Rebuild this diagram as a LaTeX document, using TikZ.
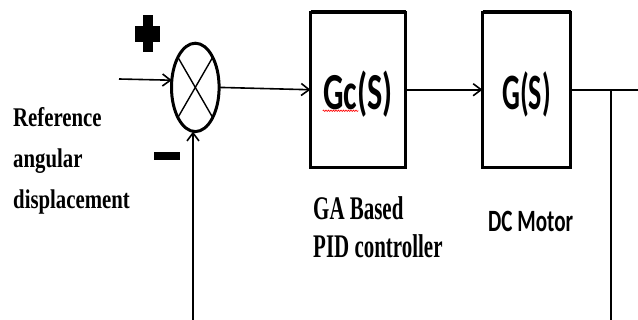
\documentclass[tikz,border=0pt]{standalone}
\usepackage{fontspec}
\setmainfont{Liberation Serif}
\newfontfamily\refserif[FakeStretch=0.77]{Liberation Serif}
\newfontfamily\gaserif[FakeStretch=0.635]{Liberation Serif}
\newfontfamily\gcsans[FakeStretch=0.62]{Carlito}
\newfontfamily\gsans[FakeStretch=0.55]{Carlito}
\newfontfamily\motorsans[FakeStretch=0.68]{Carlito}
\usetikzlibrary{arrows.meta,shapes.geometric,decorations.pathmorphing}

\begin{document}
\begin{tikzpicture}[x=1pt,y=-1pt]
\tikzset{
  blockbox/.style={rectangle,draw,line width=2.7pt,minimum width=95pt,minimum height=155.5pt,inner sep=0pt,outer sep=0pt,text height=40pt,text depth=0pt},
  topedge/.style={line width=4pt},
  sumnode/.style={ellipse,draw,line width=3pt,minimum width=47.6pt,minimum height=88.4pt,inner sep=0pt,outer sep=0pt},
  directed/.style={-{Straight Barb[length=8pt,width=12pt]},line width=1.6pt},
  undirected/.style={line width=1.6pt},
  tapline/.style={line width=1.3pt},
  crossline/.style={line width=1.4pt},
  textlabel/.style={anchor=base west,inner sep=0pt,align=left}
}
\useasboundingbox (0,0) rectangle (638,320);
\node[sumnode] (n_sum) at (195.3,87.4) {};
\node[blockbox,font=\gcsans\bfseries\fontsize{52}{52}\selectfont] (n_gc) at (358,89.75) {Gc(S)};
\node[blockbox,minimum width=88pt,font=\gsans\bfseries\fontsize{51}{51}\selectfont] (n_g) at (526.5,89.75) {G(S)};
% base anchor sits on the last line
\node[textlabel,font=\refserif\bfseries\fontsize{27}{41}\selectfont] (t_ref) at (13,209) {Reference\\angular\\displacement};
\node[textlabel,font=\gaserif\bfseries\fontsize{33}{38}\selectfont] (t_ga) at (313,258) {GA Based\\PID controller};
\node[textlabel,font=\motorsans\bfseries\fontsize{31}{31}\selectfont] (t_motor) at (488,232) {DC Motor};
\coordinate (c_in) at (119,79);
\coordinate (c_out) at (638,89.75);
\coordinate (c_tap) at (611,89.75);
\coordinate (c_tapend) at (611,320);
\coordinate (c_fb) at (193,320);
% signs
\fill (135,26) rectangle (160,42.5);
\fill (142.5,15) rectangle (152.5,52);
\fill (153.5,152.5) rectangle (180,160.5);
% summing junction
\draw[crossline] (n_sum.60) -- (n_sum.-120);
\draw[crossline] (n_sum.120) -- (n_sum.-60);
\draw[topedge] (n_gc.north west) -- (n_gc.north east);
\draw[topedge] (n_g.north west) -- (n_g.north east);
\draw[red,line width=0.6pt,decorate,decoration={snake,amplitude=0.7pt,segment length=2.5pt}] (322.7,110.8) -- (358.3,110.8);
% signal flow
\draw[directed] (c_in) -- (n_sum.163);
\draw[directed] (n_sum.east) -- (n_gc.west);
\draw[directed] (n_gc.east) -- (n_g.west);
\draw[undirected] (n_g.east) -- (c_out);
\draw[tapline] (c_tap) -- (c_tapend);
\draw[directed] (c_fb) -- (c_fb |- n_sum.south);
\end{tikzpicture}
\end{document}
